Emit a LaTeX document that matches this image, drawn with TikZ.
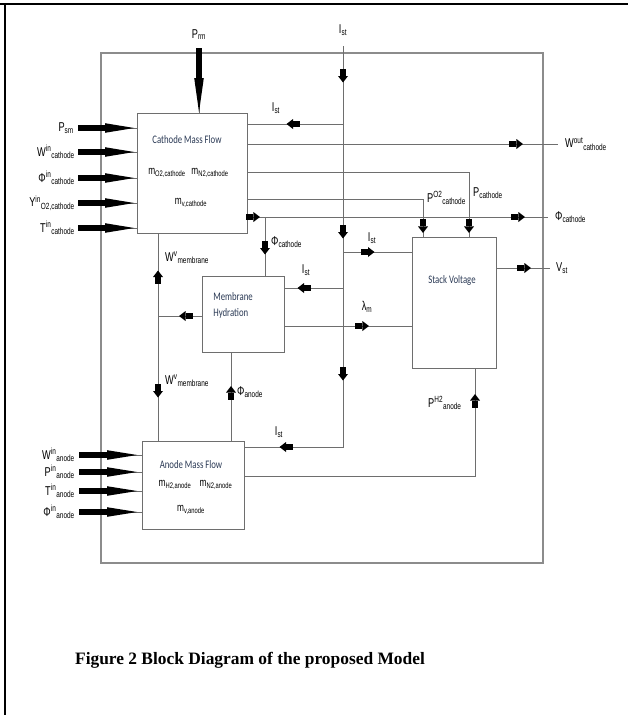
\documentclass[tikz,border=0pt]{standalone}
\usepackage{fontspec}
\setmainfont{Liberation Serif}
\newfontfamily\lblfont[FakeStretch=0.72]{Liberation Sans}
\newfontfamily\boxfont[FakeStretch=0.76]{Carlito}
\usepackage{tikz}
\usetikzlibrary{arrows.meta, positioning, calc, decorations.markings}
\definecolor{wiregray}{HTML}{6E6E6E}
\definecolor{framegray}{HTML}{8C8C8C}
\definecolor{titleink}{HTML}{2B3A55}

\newcommand{\blockhead}{%
  \fill[black] (-7pt,-2.7pt) rectangle (0pt,2.7pt);
  \fill[black] (0pt,-5pt) -- (6.5pt,0pt) -- (0pt,5pt) -- cycle;}
\newcommand{\fathead}[2]{%
  \fill[black] (0pt,-2.9pt) rectangle (#1pt,2.9pt);
  \fill[black] ({#1pt-3pt},-4.8pt) -- (#2pt,0pt) -- ({#1pt-3pt},4.8pt) -- cycle;}
\newcommand{\vsym}[3]{#1\textsuperscript{#2}\textsubscript{#3}}
\newcommand{\vsub}[2]{#1\textsubscript{#2}}

\tikzset{
  blk/.style={draw=wiregray, line width=0.9pt, fill=white, inner sep=0pt},
  wire/.style={draw=wiregray, line width=0.9pt},
  head at/.style={postaction={decorate, decoration={markings,
                  mark=at position #1 with {\blockhead}}}},
  fat/.style 2 args={postaction={decorate, decoration={markings,
                  mark=at position 0.1pt with {\fathead{#1}{#2}}}}},
  lbl/.style={font=\lblfont\fontsize{12.8}{14}\selectfont, inner sep=1pt},
  inlbl/.style={font=\lblfont\fontsize{11.5}{13}\selectfont, inner sep=1pt},
  boxtitle/.style={font=\boxfont\fontsize{11.5}{16}\selectfont, text=titleink,
                   inner sep=1pt},
}

\begin{document}
\begin{tikzpicture}[x=1pt, y=-1pt]
  \useasboundingbox (0,0) rectangle (628,715);

  %% ── Page frame and model boundary ────────────────────────────────────────
  \draw[line width=2.2pt] (0,4) -- (628,4);
  \draw[line width=2.2pt] (5,3) -- (5,715);
  \draw[draw=framegray, line width=1.1pt] (101,53) rectangle (543,563);

  %% ── Blocks ───────────────────────────────────────────────────────────────
  \node[blk, minimum width=110pt, minimum height=120pt] (cmf)   at (192,173) {};
  \node[blk, minimum width=82pt,  minimum height=76pt]  (memb)  at (243,314) {};
  \node[blk, minimum width=84pt,  minimum height=131pt] (stack) at (454,302.5) {};
  \node[blk, minimum width=102pt, minimum height=88pt]  (amf)   at (193,485) {};

  \node[boxtitle] (cmf-t) at (187,140) {Cathode Mass Flow};
  \node[inlbl] (cmf-o2) at (167,173) {\vsub{m}{O2,cathode}};
  \node[inlbl] (cmf-n2) at (210,173) {\vsub{m}{N2,cathode}};
  \node[inlbl] (cmf-v)  at (191,203) {\vsub{m}{v,cathode}};

  \node[boxtitle, align=left] (memb-t) at (233,305) {Membrane\\Hydration};
  \node[boxtitle] (stack-t) at (452,280) {Stack Voltage};

  \node[boxtitle] (amf-t) at (191,465) {Anode Mass Flow};
  \node[inlbl] (amf-h2) at (175,485) {\vsub{m}{H2,anode}};
  \node[inlbl] (amf-n2) at (216,485) {\vsub{m}{N2,anode}};
  \node[inlbl] (amf-v)  at (191,510) {\vsub{m}{v,anode}};

  %% ── Cathode inputs ───────────────────────────────────────────────────────
  \coordinate (cin1) at (78,128);
  \coordinate (cin2) at (78,152);
  \coordinate (cin3) at (78,178);
  \coordinate (cin4) at (78,203);
  \coordinate (cin5) at (78,228);
  \node[lbl, left=3pt of cin1] (psm)   {\vsub{P}{sm}};
  \node[lbl, left=2pt of cin2] (wcin)  {\vsym{W}{in}{cathode}};
  \node[lbl, left=2pt of cin3] (phcin) {\vsym{Φ}{in}{cathode}};
  \node[lbl, left=2pt of cin4] (ycin)  {\vsym{Y}{in}{O2,cathode}};
  \node[lbl, left=2pt of cin5] (tcin)  {\vsym{T}{in}{cathode}};
  \draw[wire, fat={30}{56}] (cin1) -- (cin1 -| cmf.west);
  \draw[wire, fat={30}{56}] (cin2) -- (cin2 -| cmf.west);
  \draw[wire, fat={30}{56}] (cin3) -- (cin3 -| cmf.west);
  \draw[wire, fat={30}{56}] (cin4) -- (cin4 -| cmf.west);
  \draw[wire, fat={30}{56}] (cin5) -- (cin5 -| cmf.west);

  % return manifold pressure from the top
  \coordinate (prm) at (199,48);
  \node[lbl, above=7pt of prm] (prm-l) {\vsub{P}{rm}};
  \draw[wire, fat={33}{64}] (prm) -- (prm |- cmf.north);

  %% ── Anode inputs ─────────────────────────────────────────────────────────
  \coordinate (ain1) at (79,455);
  \coordinate (ain2) at (79,472);
  \coordinate (ain3) at (79,491);
  \coordinate (ain4) at (79,512);
  \node[lbl, left=3pt of ain1] (wain)  {\vsym{W}{in}{anode}};
  \node[lbl, left=3pt of ain2] (pain)  {\vsym{P}{in}{anode}};
  \node[lbl, left=3pt of ain3] (tain)  {\vsym{T}{in}{anode}};
  \node[lbl, left=3pt of ain4] (phain) {\vsym{Φ}{in}{anode}};
  \draw[wire, fat={31}{58}] (ain1) -- (ain1 -| amf.west);
  \draw[wire, fat={31}{58}] (ain2) -- (ain2 -| amf.west);
  \draw[wire, fat={31}{58}] (ain3) -- (ain3 -| amf.west);
  \draw[wire, fat={31}{58}] (ain4) -- (ain4 -| amf.west);

  %% ── Stack current bus ────────────────────────────────────────────────────
  \coordinate (isttop) at (343,46);
  \node[lbl, above=9pt of isttop] (ist-l) {\vsub{I}{st}};
  \draw[wire, head at=30pt, head at=186pt, head at=328pt, head at=458pt]
    (isttop) |- (amf.east |- 0,447);
  \node[lbl] (ist-a) at (279,432) {\vsub{I}{st}};

  \coordinate (jc) at (343,124);
  \coordinate (js) at (343,252);
  \coordinate (jm) at (343,288);
  \draw[wire, head at=50pt] (jc) -- (jc -| cmf.east);
  \draw[wire, head at=25pt] (js) -- (js -| stack.west);
  \draw[wire, head at=39pt] (jm) -- (jm -| memb.east);
  \node[lbl] (ist-c) at (276,108) {\vsub{I}{st}};
  \node[lbl] (ist-s) at (372,238) {\vsub{I}{st}};
  \node[lbl] (ist-m) at (306,270) {\vsub{I}{st}};

  %% ── Cathode outputs ──────────────────────────────────────────────────────
  \coordinate (wout) at (558,144);
  \draw[wire, head at=269pt] (cmf.east |- wout) -- (wout);
  \node[lbl, right=6pt of wout] (wout-l) {\vsym{W}{out}{cathode}};

  \draw[wire, head at=276pt] (cmf.east |- 0,172) -| (stack.north -| 469,0);
  \node[lbl, anchor=west] (pc-l) at (472,193) {\vsub{P}{cathode}};

  \draw[wire, head at=203pt] (cmf.east |- 0,199) -| (stack.north -| 423,0);
  \node[lbl, anchor=west] (po2-l) at (426,198) {\vsym{P}{O2}{cathode}};

  \coordinate (phic) at (548,217);
  \coordinate (jphi) at (265,217);
  \draw[wire, head at=6pt, head at=271pt] (cmf.east |- phic) -- (phic);
  \node[lbl, right=6pt of phic] (phic-l) {\vsub{Φ}{cathode}};
  \draw[wire, head at=31pt] (jphi) -- (jphi |- memb.north);
  \node[lbl, anchor=west] (phim-l) at (270,242) {\vsub{Φ}{cathode}};

  %% ── Stack voltage and membrane water content ─────────────────────────────
  \coordinate (vst) at (550,268);
  \draw[wire, head at=28pt] (stack.east |- vst) -- (vst);
  \node[lbl, right=5pt of vst] (vst-l) {\vsub{V}{st}};

  \draw[wire, head at=78pt] (memb.east |- 0,326) -- (stack.west |- 0,326);
  \node[lbl] (lam-l) at (367,307) {\vsub{λ}{m}};

  %% ── Membrane water flow ──────────────────────────────────────────────────
  \coordinate (jw) at (158,316);
  \draw[wire, head at=16pt] (memb.west |- jw) -- (jw);
  \draw[wire, head at=39pt] (jw) -- (jw |- cmf.south);
  \draw[wire, head at=75pt] (jw) -- (jw |- amf.north);
  \node[lbl, anchor=west] (wvu-l) at (164,258) {\vsym{W}{v}{membrane}};
  \node[lbl, anchor=west] (wvd-l) at (164,381) {\vsym{W}{v}{membrane}};

  \draw[wire, head at=48pt] (amf.north -| 231,0) -- (memb.south -| 231,0);
  \node[lbl, anchor=west] (pha-l) at (236,392) {\vsub{Φ}{anode}};

  %% ── Anode hydrogen pressure ──────────────────────────────────────────────
  \draw[wire, head at=306pt] (amf.east |- 0,476) -| (stack.south -| 475,0);
  \node[lbl, anchor=west] (ph2-l) at (427,403) {\vsym{P}{H2}{anode}};

  %% ── Caption ──────────────────────────────────────────────────────────────
  \node[font=\bfseries\fontsize{17.4}{20}\selectfont] (cap) at (250,660)
    {Figure 2 Block Diagram of the proposed Model};

\end{tikzpicture}
\end{document}
